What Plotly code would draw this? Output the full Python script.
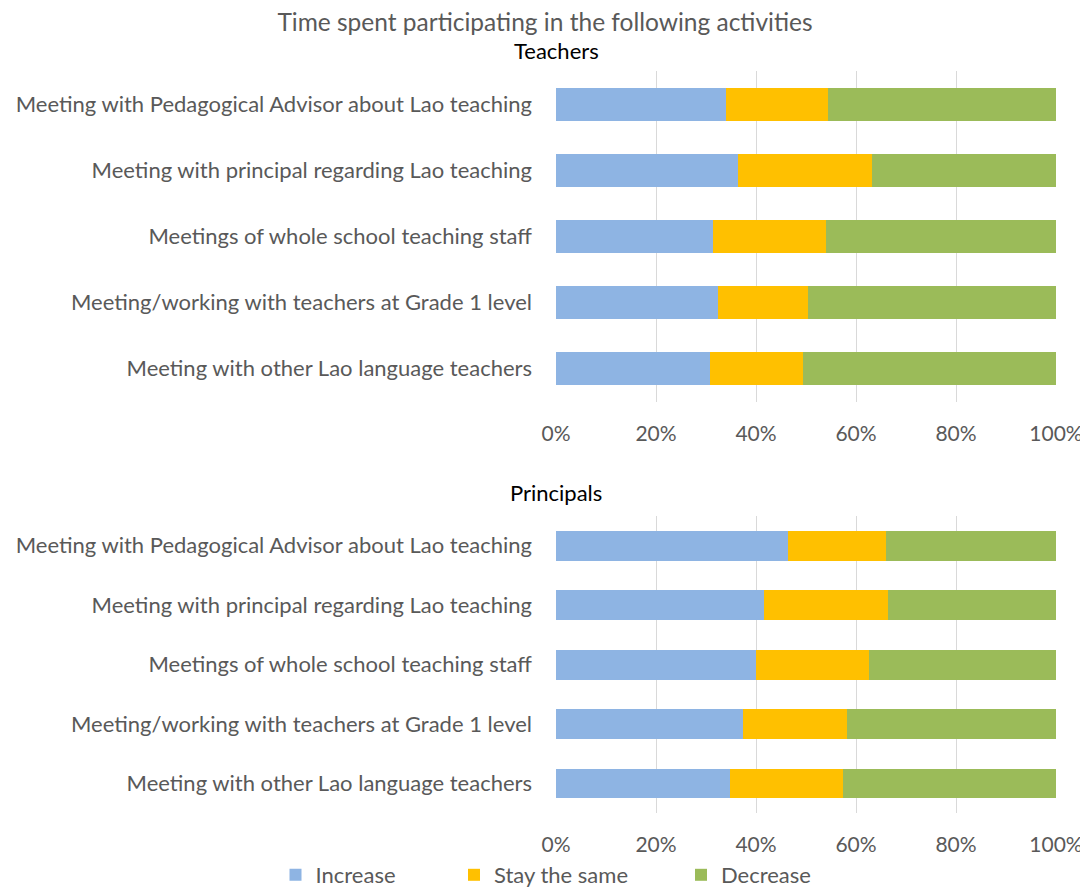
import plotly.graph_objects as go

# activities (top to bottom as shown)
activities = [
    "Meeting with Pedagogical Advisor about Lao teaching",
    "Meeting with principal regarding Lao teaching",
    "Meetings of whole school teaching staff",
    "Meeting/working with teachers at Grade 1 level",
    "Meeting with other Lao language teachers",
]

# Teachers (share of responses, %)
teachers_increase = [34.0, 36.4, 31.3, 32.4, 30.8]
teachers_same = [20.3, 26.7, 22.7, 18.0, 18.5]
teachers_decrease = [45.7, 36.9, 46.0, 49.6, 50.7]

# Principals (share of responses, %)
principals_increase = [46.4, 41.6, 39.9, 37.3, 34.7]
principals_same = [19.5, 24.8, 22.7, 20.9, 22.7]
principals_decrease = [34.1, 33.6, 37.4, 41.8, 42.6]

series_names = ["Increase", "Stay the same", "Decrease"]
colors = ["#8EB4E3", "#FFC000", "#9BBB59"]
legend_ids = ["legend", "legend2", "legend3"]

W, H = 1080, 885
font_family = "Lato, Open Sans, sans-serif"
grey = "#595959"

fig = go.Figure()

teachers = [teachers_increase, teachers_same, teachers_decrease]
principals = [principals_increase, principals_same, principals_decrease]

for name, color, vals, lg in zip(series_names, colors, teachers, legend_ids):
    fig.add_trace(go.Bar(
        y=activities, x=vals, name=name, orientation="h",
        marker=dict(color=color, line=dict(width=0)),
        width=0.5, xaxis="x", yaxis="y", legend=lg,
    ))

for name, color, vals in zip(series_names, colors, principals):
    fig.add_trace(go.Bar(
        y=activities, x=vals, name=name, orientation="h",
        marker=dict(color=color, line=dict(width=0)),
        width=0.5, xaxis="x2", yaxis="y2", showlegend=False,
    ))

xaxis_style = dict(
    range=[0, 100], tickvals=[0, 20, 40, 60, 80, 100],
    ticktext=["0%", "20%", "40%", "60%", "80%", "100%"],
    showgrid=True, gridcolor="#D9D9D9", gridwidth=1,
    zeroline=False, showline=False, ticks="",
    tickfont=dict(size=21, color=grey, family=font_family),
    ticklabelstandoff=17, domain=[0, 1], fixedrange=True,
)
yaxis_style = dict(
    autorange="reversed", showgrid=False, zeroline=False,
    showline=False, ticks="",
    tickfont=dict(size=22, color=grey, family=font_family),
    ticklabelstandoff=23, fixedrange=True,
)

legend_style = dict(
    orientation="h", xanchor="left", xref="container",
    y=1 - 867 / H, yanchor="middle", yref="container",
    font=dict(size=22, color=grey, family=font_family),
    itemwidth=30, bgcolor="rgba(0,0,0,0)",
)

fig.update_layout(
    width=W, height=H,
    barmode="stack",
    paper_bgcolor="white", plot_bgcolor="white",
    margin=dict(l=548, r=32, t=0, b=0, autoexpand=False),
    font=dict(family=font_family, color=grey),
    title=dict(
        text="Time spent participating in the following activities",
        x=537 / W, xanchor="center", xref="container",
        y=1 - 14 / H, yanchor="middle", yref="container",
        font=dict(size=24.5, color=grey, family=font_family),
    ),
    xaxis=dict(xaxis_style, anchor="y"),
    yaxis=dict(yaxis_style, domain=[1 - 393.7 / H, 1 - 63 / H], anchor="x"),
    xaxis2=dict(xaxis_style, anchor="y2"),
    yaxis2=dict(yaxis_style, domain=[1 - 805.3 / H, 1 - 508 / H], anchor="x2"),
    legend=dict(legend_style, x=(287.5 - 20) / W),
    legend2=dict(legend_style, x=(466 - 20) / W),
    legend3=dict(legend_style, x=(693 - 20) / W),
    bargap=0.5,
)

# panel titles
for txt, ypx in [("Teachers", 42), ("Principals", 484)]:
    fig.add_annotation(
        text=txt, xref="paper", yref="paper", x=0, y=1 - ypx / H,
        showarrow=False, font=dict(size=22, color="black", family=font_family),
        xanchor="center", yanchor="middle",
    )

fig.write_html("out.html")
